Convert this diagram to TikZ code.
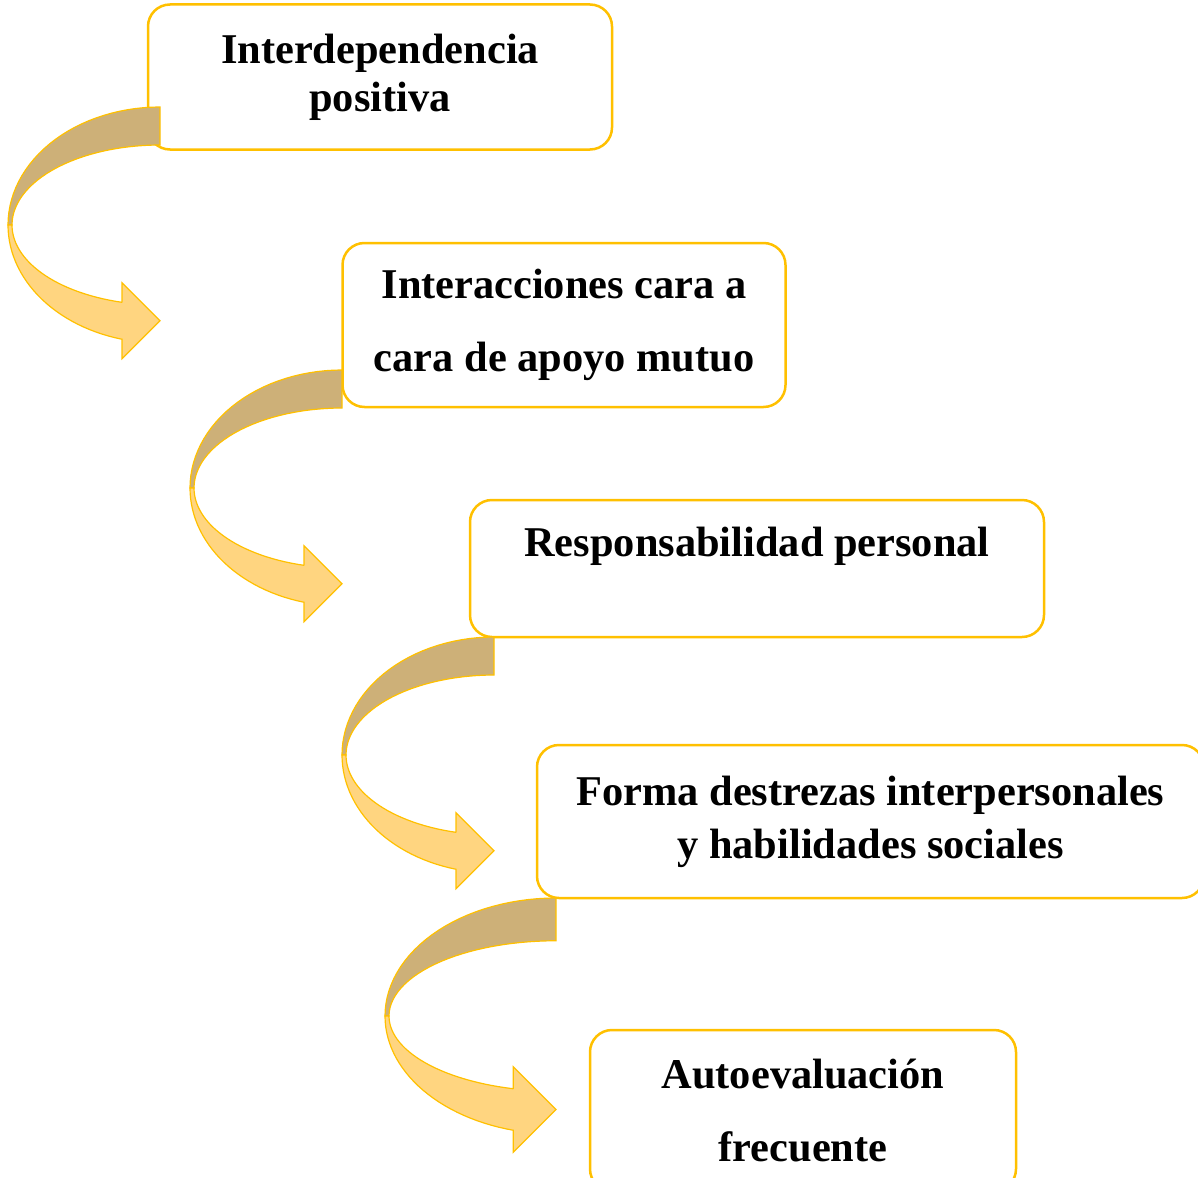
\documentclass[tikz,border=0pt]{standalone}
\usepackage{fontspec}
\setmainfont{Liberation Serif}
\usepackage{xcolor}
\usepackage{tikz}
\usetikzlibrary{positioning}
\definecolor{boxgold}{HTML}{FFC000}
\definecolor{bandtan}{HTML}{CDB078}
\definecolor{bandgold}{HTML}{FFD580}

\begin{document}
\begin{tikzpicture}[x=0.5pt,y=-0.5pt,
		b/.style={rounded corners=11pt,draw=boxgold,line width=1.25pt,fill=white,
				align=center,inner sep=0pt,font=\fontsize{21.2}{24}\selectfont\bfseries},
		back/.style={draw=boxgold,line width=0.6pt,fill=bandtan},
		front/.style={draw=boxgold,line width=0.6pt,fill=bandgold}
		]
		\useasboundingbox (0,0) rectangle (1198,1177);
		\node[b,minimum width=232pt,minimum height=72.5pt] (inter) at (380,77) {Interdependencia\\positiva};
		\node[b,minimum width=221.5pt,minimum height=82pt] (cara) at (564,325) {Interacciones cara a\\[12.5pt]cara de apoyo mutuo};
		\node[b,minimum width=287pt,minimum height=68.5pt,text depth=26.5pt] (resp) at (757,568.5) {Responsabilidad personal};
		\node[b,minimum width=333.5pt,minimum height=76.5pt] (dest) at (870.5,821.5) {Forma destrezas interpersonales\\[2.5pt]y habilidades sociales};
		\node[b,minimum width=213pt,minimum height=80.5pt] (auto) at (803,1110.5) {Autoevaluación\\[12.5pt]frecuente};
		% curved arrows: right end x, top y, width
		\foreach \R/\T/\W in {160/107/152,342/370/152,494/637/152,556/898/171}{
			\pgfmathsetmacro\B{\W/4}
			\pgfmathsetmacro\C{\T+118}
			\pgfmathsetmacro\Ri{118-\B}
			\pgfmathsetmacro\Wi{\W-4}
			\pgfmathsetmacro\ao{180-acos(\B/\W)}
			\pgfmathsetmacro\ai{180-acos(\B/\Wi)}
			\pgfmathsetmacro\yo{\C+118*sin(\ao)}
			\pgfmathsetmacro\yi{\C+\Ri*sin(\ai)}
			\pgfmathsetmacro\ym{(\yo+\yi)/2}
			\filldraw[back] plot[domain=270:180,variable=\t,samples=30] ({\R+\W*cos(\t)},{\C+118*sin(\t)})
				-- plot[domain=180:270,variable=\t,samples=30] ({\R+\Wi*cos(\t)},{\C+\Ri*sin(\t)}) -- cycle;
			\filldraw[front] plot[domain=180:\ao,variable=\t,samples=30] ({\R+\W*cos(\t)},{\C+118*sin(\t)})
				-- ({\R-\B},{\ym+\B}) -- (\R,\ym) -- ({\R-\B},{\ym-\B}) -- ({\R-\B},\yi)
				-- plot[domain=\ai:180,variable=\t,samples=30] ({\R+\Wi*cos(\t)},{\C+\Ri*sin(\t)}) -- cycle;
		}
	\end{tikzpicture}
\end{document}
